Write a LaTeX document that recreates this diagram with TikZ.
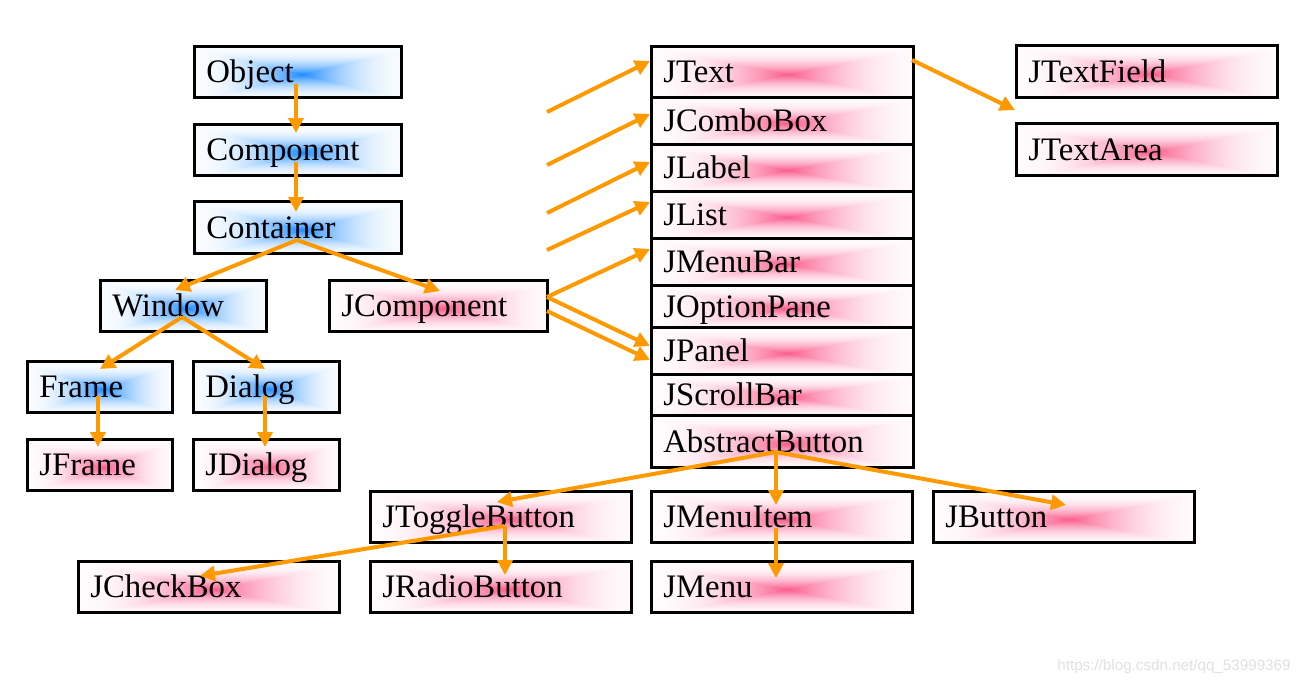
\documentclass[tikz,border=0pt]{standalone}
\usepackage{fontspec}
\setmainfont{Liberation Serif}
\newfontfamily\wmfont{Liberation Sans}
\usetikzlibrary{arrows.meta,calc}
\definecolor{arr}{RGB}{255,153,0}
\pgfdeclarefunctionalshading{bluespot}{\pgfpointorigin}{\pgfpoint{100bp}{100bp}}{}{
 47.5 sub abs 25 div exch 51 sub abs 25 div
 2 copy lt {exch} if pop
 1 exch sub dup 0 lt {pop 0} if
 dup mul 0.97 mul 0.03 add
 dup dup 0.88 mul 1 exch sub 3 1 roll 0.45 mul 1 exch sub exch 0 mul 1 exch sub
}
\pgfdeclarefunctionalshading{pinkspot}{\pgfpointorigin}{\pgfpoint{100bp}{100bp}}{}{
 47.5 sub abs 25 div exch 51 sub abs 25 div
 2 copy lt {exch} if pop
 1 exch sub dup 0 lt {pop 0} if
 dup mul 0.97 mul 0.03 add
 dup dup 0.02 mul 1 exch sub 3 1 roll 0.64 mul 1 exch sub exch 0.44 mul 1 exch sub
}
\tikzset{
 boxnode/.style={draw=black, line width=1.3pt, rectangle, inner xsep=6pt, inner ysep=0pt,
   align=left, font=\fontsize{16.4}{19}\selectfont, anchor=north west,
   text height=13pt, text depth=2pt},
 bluebox/.style={shading=bluespot},
 pinkbox/.style={shading=pinkspot},
 orarrow/.style={draw=arr, line width=2pt, -{Triangle[length=7.5pt,width=7.5pt]}}
}
\newcommand\mybox[7]{%
 \pgfmathsetmacro\bw{(#4-#2)*0.5}%
 \pgfmathsetmacro\bh{(#5-#3)*0.5}%
 \pgfmathsetmacro\tw{(#4-#2)*0.5-12}%
 \node[boxnode,#7,minimum width=\bw pt,minimum height=\bh pt,text width=\tw pt] (#1) at (#2,#3) {#6};%
}
\begin{document}
\begin{tikzpicture}[x=0.5pt,y=-0.5pt]
\useasboundingbox (0,0) rectangle (1300,685);
% left hierarchy
\mybox{obj}{193}{45}{400}{96}{Object}{bluebox}
\mybox{comp}{193}{123}{400}{174}{Component}{bluebox}
\mybox{cont}{193}{200}{400}{252}{Container}{bluebox}
\mybox{win}{99}{279}{265}{330}{Window}{bluebox}
\mybox{jcomp}{328}{279}{546}{330}{JComponent}{pinkbox}
\mybox{frame}{26}{360}{171}{411}{Frame}{bluebox}
\mybox{dialog}{192}{360}{338}{411}{Dialog}{bluebox}
\mybox{jframe}{26}{438}{171}{489}{JFrame}{pinkbox}
\mybox{jdialog}{192}{438}{338}{489}{JDialog}{pinkbox}
% column
\mybox{jtext}{650}{45}{912}{96}{JText}{pinkbox}
\mybox{jcombo}{650}{96}{912}{143}{JComboBox}{pinkbox}
\mybox{jlabel}{650}{143}{912}{190}{JLabel}{pinkbox}
\mybox{jlist}{650}{190}{912}{237}{JList}{pinkbox}
\mybox{jmenubar}{650}{237}{912}{284}{JMenuBar}{pinkbox}
\mybox{joption}{650}{284}{912}{326}{JOptionPane}{pinkbox}
\mybox{jpanel}{650}{326}{912}{373}{JPanel}{pinkbox}
\mybox{jscroll}{650}{373}{912}{414}{JScrollBar}{pinkbox}
\mybox{abstract}{650}{414}{912}{466}{AbstractButton}{pinkbox}
\mybox{jtf}{1015}{44}{1276}{96}{JTextField}{pinkbox}
\mybox{jta}{1015}{122}{1276}{174}{JTextArea}{pinkbox}
% buttons
\mybox{toggle}{369}{490}{630}{541}{JToggleButton}{pinkbox}
\mybox{menuitem}{650}{490}{911}{541}{JMenuItem}{pinkbox}
\mybox{jbutton}{932}{490}{1193}{541}{JButton}{pinkbox}
\mybox{checkbox}{77}{560}{338}{611}{JCheckBox}{pinkbox}
\mybox{radio}{369}{560}{630}{611}{JRadioButton}{pinkbox}
\mybox{jmenu}{650}{560}{911}{611}{JMenu}{pinkbox}
% free starts
\coordinate (f1) at (547,112);
\coordinate (f2) at (547,165);
\coordinate (f3) at (547,213);
\coordinate (f4) at (547,250);
% arrows
\draw[orarrow] ($(obj.north west)+(103,39)$) -- ($(comp.north west)+(103,10)$);
\draw[orarrow] ($(comp.north west)+(103,39)$) -- ($(cont.north west)+(103,12)$);
\draw[orarrow] ($(cont.north west)+(104,40)$) -- ($(win.north west)+(76,11)$);
\draw[orarrow] ($(cont.north west)+(104,40)$) -- ($(jcomp.north west)+(112,12)$);
\draw[orarrow] ($(win.north west)+(83,38)$) -- ($(frame.north west)+(74,9)$);
\draw[orarrow] ($(win.north west)+(83,38)$) -- ($(dialog.north west)+(73,9)$);
\draw[orarrow] ($(frame.north west)+(72,36)$) -- ($(jframe.north west)+(72,9)$);
\draw[orarrow] ($(dialog.north west)+(73,36)$) -- ($(jdialog.north west)+(73,9)$);
\draw[orarrow] ($(jcomp.north west)+(219,18)$) -- ($(jmenubar.north west)+(0,12)$);
\draw[orarrow] ($(jcomp.north west)+(219,18)$) -- ($(jpanel.north west)+(0,20)$);
\draw[orarrow] ($(jcomp.north west)+(219,32)$) -- ($(jpanel.north west)+(0,34)$);
\draw[orarrow] (f1) -- ($(jtext.north west)+(0,16)$);
\draw[orarrow] (f2) -- ($(jcombo.north west)+(0,18)$);
\draw[orarrow] (f3) -- ($(jlabel.north west)+(0,19)$);
\draw[orarrow] (f4) -- ($(jlist.north west)+(0,12)$);
\draw[orarrow] ($(jtext.north west)+(262,15)$) -- ($(jtf.north west)+(0,66)$);
\draw[orarrow] ($(abstract.north west)+(126,38)$) -- ($(toggle.north west)+(128,12)$);
\draw[orarrow] ($(abstract.north west)+(126,38)$) -- ($(menuitem.north west)+(126,15)$);
\draw[orarrow] ($(abstract.north west)+(126,38)$) -- ($(jbutton.north west)+(134,15)$);
\draw[orarrow] ($(toggle.north west)+(135,36)$) -- ($(checkbox.north west)+(123,16)$);
\draw[orarrow] ($(toggle.north west)+(136,36)$) -- ($(radio.north west)+(136,15)$);
\draw[orarrow] ($(menuitem.north west)+(126,38)$) -- ($(jmenu.north west)+(126,18)$);
% watermark
\node[anchor=east, text=black!12, font=\wmfont\fontsize{7.6}{9}\selectfont, inner sep=0pt] (wm) at (1291,667) {https://blog.csdn.net/qq\_53999369};
\end{tikzpicture}
\end{document}
